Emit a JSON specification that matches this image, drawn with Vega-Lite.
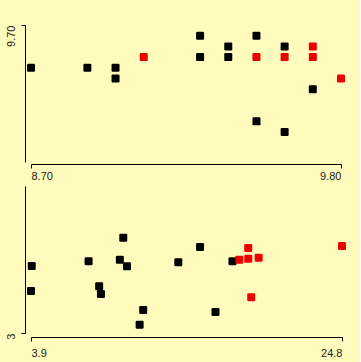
{
  "$schema": "https://vega.github.io/schema/vega-lite/v6.json",
  "background": "#fffbbd",
  "padding": {"top": 24, "left": 5, "right": 14, "bottom": 5},
  "spacing": 5,
  "config": {
    "view": {"stroke": null},
    "axis": {"labelFont": "Liberation Sans", "labelFontSize": 11, "labelColor": "#222222", "domainColor": "#000000", "tickColor": "#000000", "grid": false, "title": null, "tickSize": 4, "domainWidth": 1, "tickWidth": 1}
  },
  "vconcat": [
    {
      "width": 310,
      "height": 137,
      "data": {"values": [
        {"x": 8.7, "y": 9.3, "g": "b"}, {"x": 8.9, "y": 9.3, "g": "b"}, {"x": 9.0, "y": 9.3, "g": "b"}, {"x": 9.0, "y": 9.2, "g": "b"},
        {"x": 9.1, "y": 9.4, "g": "r"}, {"x": 9.3, "y": 9.6, "g": "b"}, {"x": 9.3, "y": 9.4, "g": "b"}, {"x": 9.4, "y": 9.5, "g": "b"},
        {"x": 9.4, "y": 9.4, "g": "b"}, {"x": 9.5, "y": 9.6, "g": "b"}, {"x": 9.5, "y": 9.4, "g": "r"}, {"x": 9.5, "y": 8.8, "g": "b"},
        {"x": 9.6, "y": 9.5, "g": "b"}, {"x": 9.6, "y": 9.4, "g": "r"}, {"x": 9.6, "y": 8.7, "g": "b"}, {"x": 9.7, "y": 9.5, "g": "r"},
        {"x": 9.7, "y": 9.4, "g": "r"}, {"x": 9.7, "y": 9.1, "g": "b"}, {"x": 9.8, "y": 9.2, "g": "r"}
      ]},
      "mark": {"type": "point", "filled": true, "opacity": 1, "size": 64, "shape": "M-0.7,-1H0.7Q1,-1 1,-0.7V0.7Q1,1 0.7,1H-0.7Q-1,1 -1,0.7V-0.7Q-1,-1 -0.7,-1Z"},
      "encoding": {
        "x": {"field": "x", "type": "quantitative", "scale": {"domain": [8.7, 9.8], "nice": false, "zero": false},
              "axis": {"values": [8.7, 9.8], "format": ".2f", "labelFlush": true, "offset": 2, "labelPadding": 2}},
        "y": {"field": "y", "type": "quantitative", "scale": {"domain": [8.42, 9.7], "nice": false, "zero": false},
              "axis": {"values": [9.7], "format": ".2f", "labelAngle": -90, "labelAlign": "right", "labelBaseline": "bottom", "labelFlush": false, "offset": 6, "labelPadding": 5}},
        "color": {"field": "g", "type": "nominal", "scale": {"domain": ["b", "r"], "range": ["#000000", "#ee0000"]}, "legend": null}
      }
    },
    {
      "width": 311,
      "height": 147,
      "data": {"values": [
        {"x": 3.95, "y": 9.7, "g": "b"}, {"x": 3.9, "y": 7.2, "g": "b"}, {"x": 7.77, "y": 10.17, "g": "b"}, {"x": 8.48, "y": 7.67, "g": "b"},
        {"x": 8.6, "y": 6.9, "g": "b"}, {"x": 10.1, "y": 12.53, "g": "b"}, {"x": 9.87, "y": 10.33, "g": "b"}, {"x": 10.35, "y": 9.67, "g": "b"},
        {"x": 11.44, "y": 5.3, "g": "b"}, {"x": 11.2, "y": 3.83, "g": "b"}, {"x": 13.8, "y": 10.07, "g": "b"}, {"x": 15.26, "y": 11.6, "g": "b"},
        {"x": 16.3, "y": 5.1, "g": "b"}, {"x": 17.44, "y": 10.17, "g": "b"}, {"x": 17.9, "y": 10.33, "g": "r"}, {"x": 18.5, "y": 11.5, "g": "r"},
        {"x": 18.5, "y": 10.43, "g": "r"}, {"x": 19.2, "y": 10.53, "g": "r"}, {"x": 18.7, "y": 6.57, "g": "r"}, {"x": 24.8, "y": 11.7, "g": "r"}
      ]},
      "mark": {"type": "point", "filled": true, "opacity": 1, "size": 64, "shape": "M-0.7,-1H0.7Q1,-1 1,-0.7V0.7Q1,1 0.7,1H-0.7Q-1,1 -1,0.7V-0.7Q-1,-1 -0.7,-1Z"},
      "encoding": {
        "x": {"field": "x", "type": "quantitative", "scale": {"domain": [3.9, 24.8], "nice": false, "zero": false},
              "axis": {"values": [3.9, 24.8], "format": ".1f", "labelFlush": true, "offset": 4, "labelPadding": 6}},
        "y": {"field": "y", "type": "quantitative", "scale": {"domain": [3, 17.7], "nice": false, "zero": false},
              "axis": {"values": [3], "format": "d", "labelAngle": -90, "labelAlign": "right", "labelBaseline": "bottom", "labelFlush": false, "offset": 6, "labelPadding": 5}},
        "color": {"field": "g", "type": "nominal", "scale": {"domain": ["b", "r"], "range": ["#000000", "#ee0000"]}, "legend": null}
      }
    }
  ]
}
